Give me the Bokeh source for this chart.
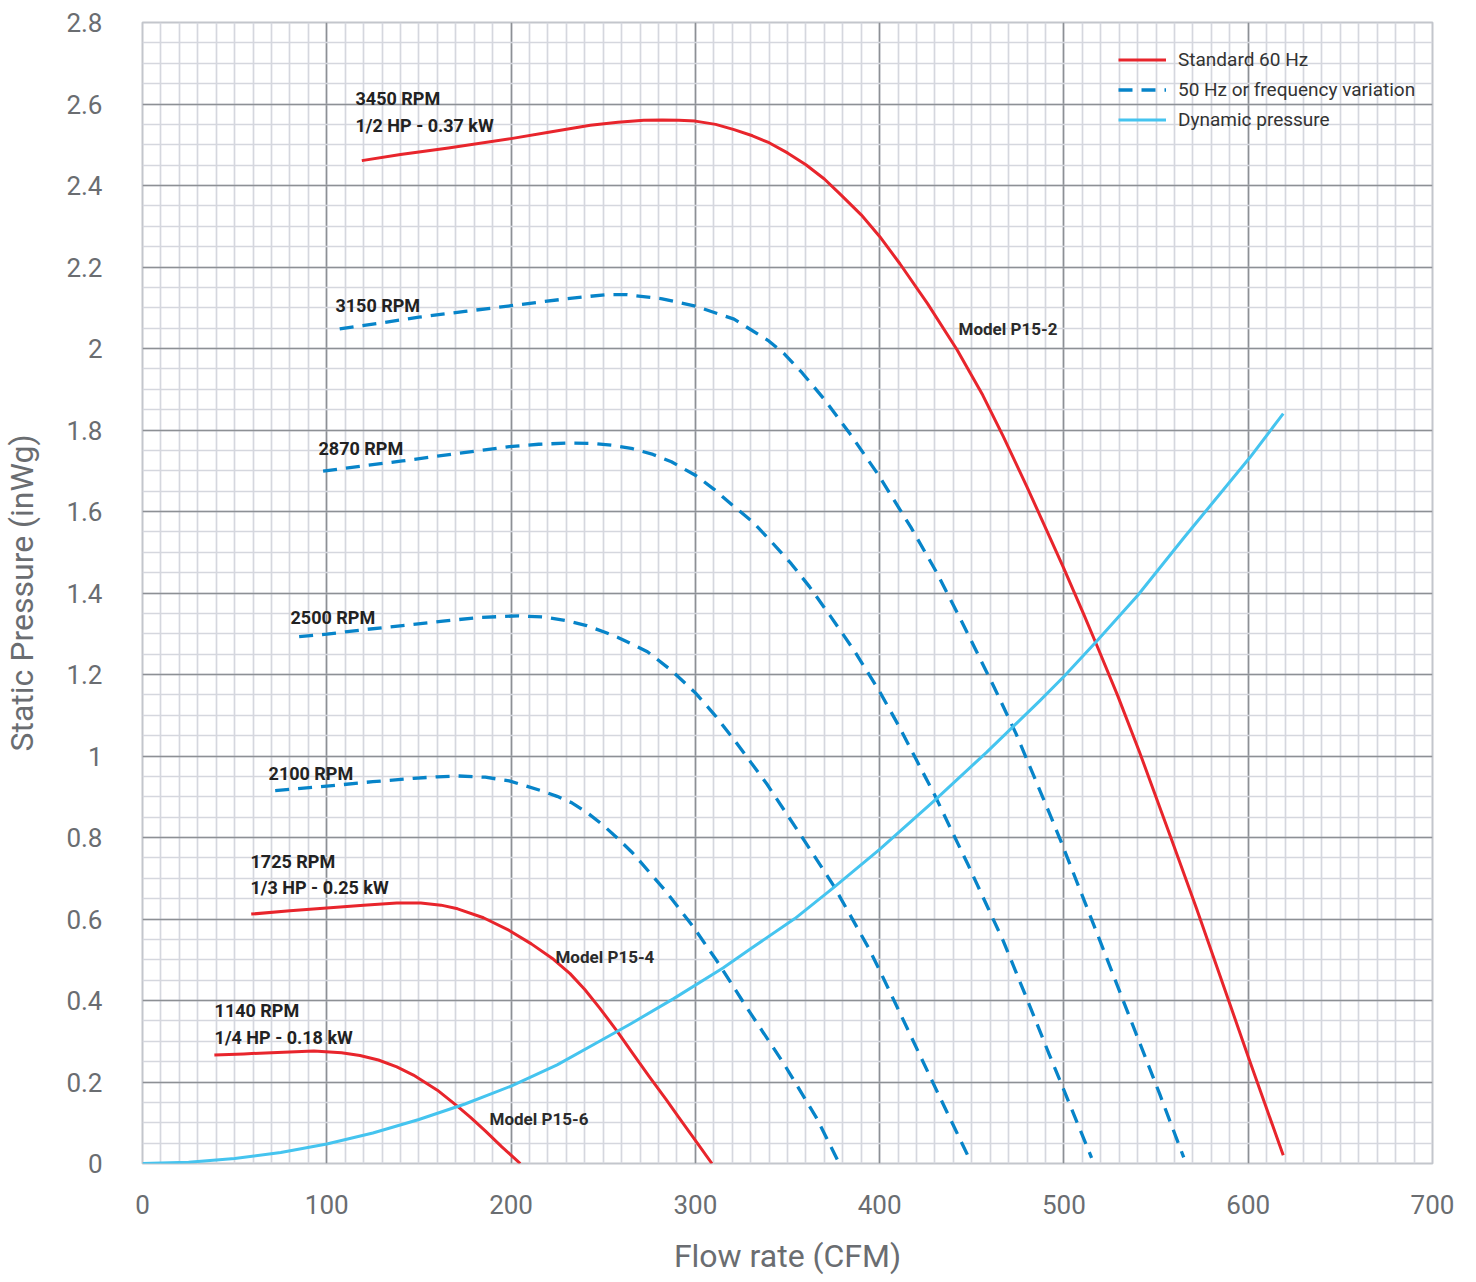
from bokeh.plotting import figure
from bokeh.models import FixedTicker, Legend, LegendItem, ColumnDataSource, Range1d
from bokeh.core.properties import value
from bokeh.embed import file_html
from bokeh.resources import INLINE

# ---- data (flow CFM, static pressure inWg) ----
s3450_x = [119, 140, 166, 200, 222, 243, 258, 272, 282, 291, 300, 311, 321, 331, 340, 350, 360, 370, 379, 390,
           400, 411, 426, 442, 456, 467, 480, 491, 500, 511, 518, 529, 541, 558, 572, 589, 600, 619]
s3450_y = [2.461, 2.476, 2.492, 2.515, 2.532, 2.548, 2.555, 2.560, 2.561, 2.560, 2.558, 2.550, 2.537, 2.522, 2.505,
           2.480, 2.451, 2.416, 2.377, 2.328, 2.275, 2.208, 2.110, 1.997, 1.885, 1.785, 1.660, 1.550, 1.460, 1.345,
           1.270, 1.150, 1.010, 0.800, 0.625, 0.405, 0.262, 0.02]

s3150_x = [107, 130, 150, 175, 200, 230, 251, 263, 282, 300, 321, 340, 348, 358, 370, 384, 399, 417, 431, 444,
           462, 474, 492, 498, 519, 533, 552, 565]
s3150_y = [2.048, 2.063, 2.077, 2.091, 2.105, 2.122, 2.132, 2.132, 2.122, 2.104, 2.072, 2.018, 1.988, 1.940, 1.875,
           1.790, 1.692, 1.561, 1.450, 1.335, 1.170, 1.055, 0.861, 0.795, 0.553, 0.390, 0.170, 0.015]

s2870_x = [98, 120, 141, 170, 199, 215, 231, 245, 256, 266, 277, 287, 300, 310, 320, 331, 341, 352, 362, 373,
           386, 400, 410, 420, 430, 440, 448, 459, 467, 481, 492, 500, 515]
s2870_y = [1.699, 1.712, 1.724, 1.742, 1.759, 1.765, 1.768, 1.767, 1.762, 1.754, 1.740, 1.722, 1.689, 1.655, 1.616,
           1.575, 1.527, 1.472, 1.415, 1.345, 1.260, 1.158, 1.077, 0.990, 0.903, 0.808, 0.733, 0.625, 0.547, 0.392,
           0.268, 0.180, 0.014]

s2500_x = [85, 100, 120, 141, 163, 183, 204, 218, 230, 241, 252, 258, 274, 287, 300, 311, 321, 330, 339, 357,
           375, 394, 400, 412, 430, 448]
s2500_y = [1.293, 1.299, 1.310, 1.320, 1.331, 1.340, 1.344, 1.341, 1.332, 1.320, 1.302, 1.291, 1.256, 1.210, 1.155,
           1.098, 1.040, 0.985, 0.930, 0.807, 0.682, 0.529, 0.474, 0.360, 0.188, 0.018]

s2100_x = [72, 100, 125, 147, 160, 171, 186, 199, 217, 225, 233, 241, 250, 258, 266, 284, 299, 312, 328, 348, 366, 377]
s2100_y = [0.915, 0.926, 0.937, 0.945, 0.949, 0.951, 0.948, 0.939, 0.914, 0.901, 0.885, 0.862, 0.830, 0.797, 0.762,
           0.668, 0.580, 0.495, 0.382, 0.245, 0.110, 0.010]

s1725_x = [59, 80, 100, 120, 138, 151, 162, 171, 185, 199, 211, 223, 232, 240, 248, 258, 266, 275, 284, 291, 300, 309]
s1725_y = [0.612, 0.620, 0.627, 0.634, 0.639, 0.639, 0.634, 0.625, 0.603, 0.572, 0.539, 0.501, 0.466, 0.427, 0.382,
           0.322, 0.270, 0.213, 0.158, 0.113, 0.057, 0.0]

s1140_x = [39, 55, 70, 93, 108, 118, 128, 138, 147, 160, 171, 178, 186, 195, 205]
s1140_y = [0.266, 0.269, 0.272, 0.276, 0.272, 0.265, 0.254, 0.237, 0.217, 0.180, 0.140, 0.113, 0.080, 0.041, 0.0]

dyn_x = [0, 25, 50, 75, 100, 125, 150, 175, 200, 225, 248, 265, 288, 315, 330, 354, 375, 400, 430, 458, 487,
         500, 518, 540, 565, 601, 619]
dyn_y = [0, 0.003, 0.012, 0.027, 0.048, 0.075, 0.108, 0.146, 0.190, 0.242, 0.300, 0.343, 0.404, 0.480, 0.527,
         0.601, 0.677, 0.771, 0.892, 1.009, 1.136, 1.195, 1.283, 1.394, 1.535, 1.733, 1.840]

label_text = ["3450 RPM", "1/2 HP - 0.37 kW", "3150 RPM", "2870 RPM", "2500 RPM", "2100 RPM",
              "1725 RPM", "1/3 HP - 0.25 kW", "1140 RPM", "1/4 HP - 0.18 kW"]
label_x = [115.6, 115.6, 104.7, 95.5, 80.3, 68.4, 58.6, 58.6, 39.1, 39.1]
label_y = [2.613, 2.547, 2.105, 1.755, 1.34, 0.957, 0.741, 0.677, 0.375, 0.309]

model_text = ["Model P15-2", "Model P15-4", "Model P15-6"]
model_x = [442.8, 224.1, 188.3]
model_y = [2.049, 0.506, 0.108]

xtick_vals = [0, 100, 200, 300, 400, 500, 600, 700]
ytick_vals = [0, 0.2, 0.4, 0.6, 0.8, 1.0, 1.2, 1.4, 1.6, 1.8, 2.0, 2.2, 2.4, 2.6, 2.8]
ytick_labels = ["0", "0.2", "0.4", "0.6", "0.8", "1", "1.2", "1.4", "1.6", "1.8", "2", "2.2", "2.4", "2.6", "2.8"]
x_minor_step = 10
y_minor_step = 0.05

legend_labels = ["Standard 60 Hz", "50 Hz or frequency variation", "Dynamic pressure"]

# ---- styling ----
RED = "#e8252c"
BLUE = "#0784c9"
CYAN = "#45c4ef"
FONT = "Roboto"
TICK_COLOR = "#6a6d71"

p = figure(frame_width=1290, frame_height=1141, output_backend="svg", toolbar_location=None,
           x_range=Range1d(0, 700), y_range=Range1d(0, 2.8),
           min_border_left=134, min_border_right=30, min_border_top=22, min_border_bottom=108)

x_minor = [i * x_minor_step for i in range(int(700 / x_minor_step) + 1)]
y_minor = [round(i * y_minor_step, 4) for i in range(int(round(2.8 / y_minor_step)) + 1)]
p.xaxis.ticker = FixedTicker(ticks=xtick_vals, minor_ticks=x_minor)
p.yaxis.ticker = FixedTicker(ticks=ytick_vals, minor_ticks=y_minor)
p.yaxis.major_label_overrides = {v: l for v, l in zip(ytick_vals, ytick_labels)}

for ax in (p.xaxis[0], p.yaxis[0]):
    ax.axis_line_color = None
    ax.major_tick_line_color = None
    ax.minor_tick_line_color = None
    ax.major_label_text_font = FONT
    ax.major_label_text_font_size = "26px"
    ax.major_label_text_color = TICK_COLOR
    ax.axis_label_text_font = FONT
    ax.axis_label_text_font_size = "32px"
    ax.axis_label_text_font_style = "normal"
    ax.axis_label_text_color = TICK_COLOR

p.xaxis.axis_label = "Flow rate (CFM)"
p.yaxis.axis_label = "Static Pressure (inWg)"
p.xaxis.major_label_standoff = 25
p.yaxis.major_label_standoff = 34
p.xaxis.axis_label_standoff = 20
p.yaxis.axis_label_standoff = 22

for g in (p.xgrid[0], p.ygrid[0]):
    g.grid_line_color = "#8d9095"
    g.grid_line_width = 1.6
    g.minor_grid_line_color = "#d5d7de"
    g.minor_grid_line_width = 1.7
    g.level = "underlay"

p.outline_line_color = "#c3c6cc"
p.outline_line_width = 2
p.background_fill_color = "white"

# dashed curves (50 Hz / frequency variation)
dash_r = None
for xs, ys in [(s3150_x, s3150_y), (s2870_x, s2870_y), (s2500_x, s2500_y), (s2100_x, s2100_y)]:
    r = p.line(xs, ys, line_color=BLUE, line_width=3.3, line_dash="14 9", line_join="round")
    dash_r = dash_r or r

# standard 60 Hz curves
red_r = None
for xs, ys in [(s3450_x, s3450_y), (s1725_x, s1725_y), (s1140_x, s1140_y)]:
    r = p.line(xs, ys, line_color=RED, line_width=3, line_join="round")
    red_r = red_r or r

cyan_r = p.line(dyn_x, dyn_y, line_color=CYAN, line_width=3, line_join="round")

src = ColumnDataSource(dict(x=label_x, y=label_y, t=label_text))
p.text(x="x", y="y", text="t", source=src, text_font=value(FONT), text_font_style="bold",
       text_font_size="18px", text_color="#222222", text_baseline="middle", text_align="left")

msrc = ColumnDataSource(dict(x=model_x, y=model_y, t=model_text))
p.text(x="x", y="y", text="t", source=msrc, text_font=value(FONT), text_font_style="bold",
       text_font_size="17px", text_color="#2b2b2b", text_baseline="middle", text_align="left")

legend = Legend(items=[LegendItem(label=legend_labels[0], renderers=[red_r]),
                       LegendItem(label=legend_labels[1], renderers=[dash_r]),
                       LegendItem(label=legend_labels[2], renderers=[cyan_r])],
                location=(976, 1032), orientation="vertical")
legend.background_fill_alpha = 0
legend.border_line_color = None
legend.padding = 0
legend.margin = 0
legend.spacing = 7
legend.glyph_width = 48
legend.glyph_height = 21
legend.label_height = 21
legend.label_standoff = 12
legend.label_text_font = FONT
legend.label_text_font_size = "19px"
legend.label_text_color = "#333333"
p.add_layout(legend)

open("out.html", "w").write(file_html(p, INLINE))
